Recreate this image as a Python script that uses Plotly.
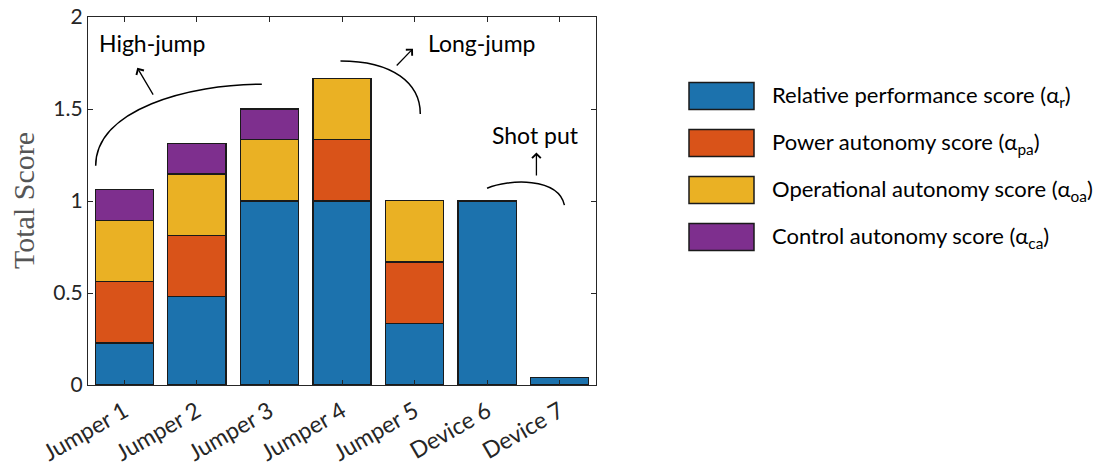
import plotly.graph_objects as go

categories = ["Jumper 1", "Jumper 2", "Jumper 3", "Jumper 4", "Jumper 5", "Device 6", "Device 7"]
relative_perf = [0.228, 0.481, 1.0, 1.0, 0.336, 1.0, 0.041]
power_auto = [0.333, 0.333, 0.0, 0.333, 0.333, 0.0, 0.0]
operational_auto = [0.333, 0.333, 0.333, 0.333, 0.333, 0.0, 0.0]
control_auto = [0.167, 0.167, 0.167, 0.0, 0.0, 0.0, 0.0]

series_names = [
    "Relative performance score (α<sub>r</sub>)",
    "Power autonomy score (α<sub>pa</sub>)",
    "Operational autonomy score (α<sub>oa</sub>)",
    "Control autonomy score (α<sub>ca</sub>)",
]
series_values = [relative_perf, power_auto, operational_auto, control_auto]
series_colors = ["#1C72AD", "#D95319", "#EAB124", "#7E2F8E"]

y_ticks = [0, 0.5, 1, 1.5, 2]

FONT = "Lato"
TXT = "#262626"

xs = list(range(len(categories)))

fig = go.Figure()
for name, vals, col in zip(series_names, series_values, series_colors):
    fig.add_trace(go.Bar(
        x=xs, y=vals, name=name, marker=dict(color=col, line=dict(color="#1a1a1a", width=1.3)),
        width=0.8, showlegend=False,
    ))

# plot area in page pixels
PL, PR, PT, PB = 88, 596, 17, 385
PW, PH = PR - PL, PB - PT

def px(x):
    return (x - PL) / PW

def py(y):
    return (PB - y) / PH

# Custom legend (large swatches)
row_centers = [96, 143, 190, 237]
for (name, col, yc) in zip(series_names, series_colors, row_centers):
    fig.add_shape(type="rect", xref="paper", yref="paper",
                  x0=px(689), x1=px(754), y0=py(yc + 13.5), y1=py(yc - 13.5),
                  fillcolor=col, line=dict(color="#1a1a1a", width=1.5))
    fig.add_annotation(xref="paper", yref="paper", x=px(770), y=py(yc),
                       text=name, showarrow=False, xanchor="left", yanchor="middle",
                       font=dict(family=FONT, size=22, color="black"))

# Curved annotation lines (data coordinates)
def arc(x0, y0, c1x, c1y, c2x, c2y, x1, y1):
    return f"M {x0},{y0} C {c1x},{c1y} {c2x},{c2y} {x1},{y1}"

line_style = dict(color="black", width=1.5)
fig.add_shape(type="path", xref="x", yref="y", line=line_style,
              path=arc(-0.394, 1.191, -0.394, 1.50, 0.90, 1.635, 1.895, 1.635))
fig.add_shape(type="path", xref="x", yref="y", line=line_style,
              path=arc(2.979, 1.761, 3.70, 1.761, 4.079, 1.64, 4.079, 1.473))
fig.add_shape(type="path", xref="x", yref="y", line=line_style,
              path=arc(4.999, 1.069, 5.30, 1.12, 5.98, 1.13, 6.065, 0.978))

arrows = [
    (0.179, 1.724, 0.410, 1.570),
    (3.978, 1.828, 3.734, 1.728),
    (5.679, 1.264, 5.679, 1.131),
]
for hx, hy, tx, ty in arrows:
    fig.add_annotation(x=hx, y=hy, ax=tx, ay=ty, xref="x", yref="y", axref="x", ayref="y",
                       showarrow=True, arrowhead=4, arrowsize=1.3, arrowwidth=1.3,
                       arrowcolor="black", text="")

labels = [("High-jump", 0.386, 1.860), ("Long-jump", 4.929, 1.860), ("Shot put", 5.665, 1.358)]
for t, x, y in labels:
    fig.add_annotation(x=x, y=y, xref="x", yref="y", text=t, showarrow=False,
                       font=dict(family=FONT, size=23, color="black"))

# y-axis title
fig.add_annotation(xref="paper", yref="paper", x=px(23.5), y=py(200.5), text="Total Score",
                   textangle=-90, showarrow=False, xanchor="center", yanchor="middle",
                   font=dict(family="Liberation Serif", size=30, color="#555555"))

# page has an 8px body margin
OFF = 8
W, H = 1113 - OFF, 469 - OFF
fig.update_layout(
    barmode="stack",
    width=W, height=H,
    margin=dict(l=PL - OFF, r=W - (PR - OFF), t=PT - OFF, b=H - (PB - OFF), autoexpand=False),
    plot_bgcolor="white", paper_bgcolor="white",
    font=dict(family=FONT, size=21, color=TXT),
)
fig.update_xaxes(
    range=[-0.5, 6.5], tickvals=xs, ticktext=categories, tickangle=-30,
    showline=True, linecolor=TXT, linewidth=1.2, mirror="ticks",
    ticks="inside", ticklen=5, tickcolor=TXT, showgrid=False, zeroline=False,
    tickfont=dict(family=FONT, size=23, color=TXT), ticklabelshift=0, ticklabelstandoff=3,
    ticklabeloverflow="allow",
)
fig.update_yaxes(
    range=[0, 2], tickvals=y_ticks, ticktext=[f"{v:g}" for v in y_ticks],
    showline=True, linecolor=TXT, linewidth=1.2, mirror="ticks",
    ticks="inside", ticklen=5, tickcolor=TXT, showgrid=False, zeroline=False,
    tickfont=dict(family=FONT, size=21, color=TXT), ticklabeloverflow="allow",
)

fig.write_html("out.html")
